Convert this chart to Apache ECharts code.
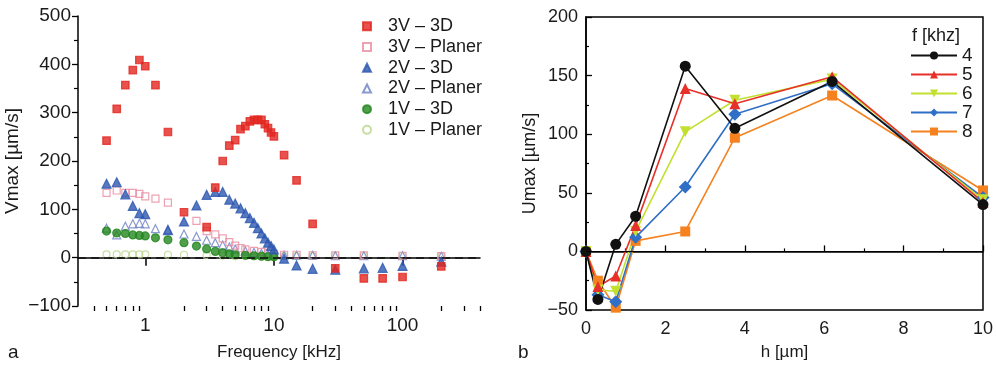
<!DOCTYPE html>
<html>
<head>
<meta charset="utf-8">
<script src="https://cdn.jsdelivr.net/npm/echarts@6/dist/echarts.min.js"></script>
<style>
  html, body { margin: 0; padding: 0; background: #fff; }
  #chart { width: 996px; height: 366px; }
</style>
</head>
<body>
<div id="chart"></div>
<script>
// panel a: frequency sweep (log x)
const f3V3D = [0.5, 0.6, 0.7, 0.8, 0.9, 1, 1.2, 1.5, 2, 3, 3.5, 4, 4.5, 5, 5.5, 6, 6.5, 7, 7.5, 8, 8.5, 9, 9.5, 10, 12, 15, 20, 30, 50, 70, 100, 200];
const v3V3D = [242, 308, 357, 388, 409, 396, 357, 260, 94, 63, 145, 200, 232, 243, 266, 272, 282, 285, 285, 285, 276, 268, 259, 251, 212, 160, 70, -22, -43, -43, -40, -18];

const f3VPl = [0.5, 0.6, 0.7, 0.8, 0.9, 1, 1.2, 1.5, 2.5, 3, 3.5, 4, 4.5, 5, 5.5, 6, 7, 8, 9, 10, 12, 15, 20, 30, 50, 100, 200];
const v3VPl = [134, 139, 134, 134, 132, 127, 122, 114, 76, 55, 48, 40, 32, 25, 20, 17, 14, 12, 10, 8, 6, 6, 5, 5, 5, 4, 3];

const f2V3D = [0.5, 0.6, 0.7, 0.8, 0.9, 1, 1.5, 2, 2.5, 3, 3.5, 4, 4.5, 5, 5.5, 6, 6.5, 7, 7.5, 8, 8.5, 9, 9.5, 10, 12, 15, 20, 30, 50, 70, 100, 200];
const v2V3D = [153, 156, 131, 107, 92, 90, 57, 75, 108, 130, 136, 136, 120, 112, 102, 92, 82, 72, 61, 50, 40, 31, 24, 17, -2, -16, -23, -25, -22, -21, -17, -8];

const f2VPl = [0.5, 0.6, 0.7, 0.8, 0.9, 1, 1.2, 1.5, 2, 2.5, 3, 3.5, 4, 4.5, 5, 6, 7, 8, 9, 10, 12, 15, 20, 30, 50, 100, 200];
const v2VPl = [61, 47, 65, 70, 71, 70, 60, 58, 49, 44, 36, 31, 26, 22, 18, 14, 11, 9, 7, 6, 5, 5, 5, 4, 4, 4, 3];

const f1V3D = [0.5, 0.6, 0.7, 0.8, 0.9, 1, 1.2, 1.5, 2, 2.5, 3, 3.5, 4, 4.5, 5, 6, 7, 8, 9, 10];
const v1V3D = [55, 51, 50, 47, 46, 45, 41, 37, 31, 24, 18, 13, 10, 8, 6, 5, 4, 3, 2, 2];

const f1VPl = [0.5, 0.6, 0.7, 0.8, 0.9, 1, 1.5, 2, 3, 4, 5, 6, 7, 8, 10, 12, 15, 20, 30, 50, 100, 200];
const v1VPl = [7, 7, 7, 7, 7, 7, 6, 6, 5, 4, 3, 3, 3, 2, 2, 3, 3, 3, 4, 4, 4, 3];

const freqMajor = [1, 10, 100];
const freqMinor = [0.4, 0.5, 0.6, 0.7, 0.8, 0.9, 2, 3, 4, 5, 6, 7, 8, 9, 20, 30, 40, 50, 60, 70, 80, 90, 200, 300, 400];

// panel b: depth sweep
const hVals = [0, 0.3, 0.75, 1.25, 2.5, 3.75, 6.2, 10];
const u4 = [0, -41, 6, 30, 158, 105, 145, 40];
const u5 = [0, -30, -21, 22, 139, 126, 149, 42];
const u6 = [0, -33, -34, 17, 102, 129, 147, 44];
const u7 = [0, -37, -43, 12, 55, 117, 143, 46];
const u8 = [0, -25, -48, 9, 17, 97, 133, 52];

const FONT = "Liberation Sans, Arial, sans-serif";
const INK = "#1a1a1a";

function pairs(xs, ys) {
  return xs.map((x, i) => [x, ys[i]]);
}
function minus(v) {
  return String(v).replace("-", "\u2212");
}

function scatter(name, xs, ys, symbol, size, fill, border, extra) {
  return Object.assign({
    name: name,
    type: "scatter",
    xAxisIndex: 0,
    yAxisIndex: 0,
    data: pairs(xs, ys),
    symbol: symbol,
    symbolSize: size,
    itemStyle: { color: fill, borderColor: border, borderWidth: 1.2 },
  }, extra || {});
}

function lineSeries(name, ys, color, symbol, size, rotate) {
  return {
    name: name,
    type: "line",
    xAxisIndex: 2,
    yAxisIndex: 1,
    data: pairs(hVals, ys),
    symbol: symbol,
    symbolSize: size,
    symbolRotate: rotate || 0,
    lineStyle: { color: color, width: 1.6 },
    itemStyle: { color: color },
  };
}

const chart = echarts.init(document.getElementById("chart"));

const option = {
  animation: false,
  backgroundColor: "#fff",
  textStyle: { fontFamily: FONT, color: INK },
  title: [
    { text: "a", left: 3, top: 338, textStyle: { fontFamily: FONT, fontSize: 19, fontWeight: "normal", color: INK } },
    { text: "b", left: 513, top: 338, textStyle: { fontFamily: FONT, fontSize: 19, fontWeight: "normal", color: INK } },
    { text: "f [khz]", left: 907, top: 22, textStyle: { fontFamily: FONT, fontSize: 18, fontWeight: "normal", color: INK } },
  ],
  legend: [
    {
      orient: "vertical",
      left: 357,
      top: 11,
      itemWidth: 8,
      itemHeight: 8,
      itemGap: 0,
      textStyle: { fontFamily: FONT, fontSize: 18, lineHeight: 20.7, color: INK, padding: [0, 0, 0, 12] },
      data: ["3V – 3D", "3V – Planer", "2V – 3D", "2V – Planer", "1V – 3D", "1V – Planer"],
    },
    {
      orient: "vertical",
      left: 905,
      top: 41,
      itemWidth: 46,
      itemHeight: 10,
      itemGap: 0,
      textStyle: { fontFamily: FONT, fontSize: 19, lineHeight: 18, color: INK },
      data: ["4", "5", "6", "7", "8"],
    },
  ],
  grid: [
    { left: 78, top: 16, width: 402, height: 296 },
    { left: 586, top: 17, width: 398, height: 301, show: true, borderColor: "#000", borderWidth: 1.5 },
  ],
  xAxis: [
    {
      gridIndex: 0,
      type: "log",
      logBase: 10,
      min: 0.3,
      max: 400,
      position: "bottom",
      name: "Frequency [kHz]",
      nameLocation: "middle",
      nameGap: 38,
      nameTextStyle: { fontFamily: FONT, fontSize: 17, color: INK },
      axisLine: { lineStyle: { color: "#000", width: 1.5 } },
      axisTick: { customValues: freqMajor, length: 8, lineStyle: { color: "#000", width: 1.5 } },
      axisLabel: { customValues: freqMajor, fontFamily: FONT, fontSize: 19, color: INK, margin: 10 },
      splitLine: { show: false },
    },
    {
      gridIndex: 0,
      type: "log",
      logBase: 10,
      min: 0.3,
      max: 400,
      position: "bottom",
      offset: 0,
      axisLine: { show: false },
      axisTick: { customValues: freqMinor, length: 5, lineStyle: { color: "#000", width: 1.3 } },
      axisLabel: { show: false },
      splitLine: { show: false },
    },
    {
      gridIndex: 1,
      type: "value",
      min: 0,
      max: 10,
      interval: 2,
      name: "h [\u00b5m]",
      nameLocation: "middle",
      nameGap: 34,
      nameTextStyle: { fontFamily: FONT, fontSize: 17, color: INK },
      axisLine: { lineStyle: { color: "#000", width: 1.5 } },
      axisTick: { inside: true, length: 6, lineStyle: { color: "#000", width: 1.3 } },
      minorTick: { show: true, splitNumber: 2, length: 3, lineStyle: { color: "#000", width: 1.2 } },
      axisLabel: { fontFamily: FONT, fontSize: 18, color: INK, margin: 10 },
      splitLine: { show: false },
    },
  ],
  yAxis: [
    {
      gridIndex: 0,
      type: "value",
      min: -100,
      max: 500,
      interval: 100,
      name: "Vmax [\u00b5m/s]",
      nameLocation: "middle",
      nameGap: 56,
      nameTextStyle: { fontFamily: FONT, fontSize: 19, color: INK },
      axisLine: { show: true, lineStyle: { color: "#000", width: 1.5 } },
      axisTick: { show: true, length: 6, lineStyle: { color: "#000", width: 1.3 } },
      minorTick: { show: true, splitNumber: 2, length: 4, lineStyle: { color: "#000", width: 1.2 } },
      axisLabel: { fontFamily: FONT, fontSize: 19, color: INK, margin: 7, formatter: minus },
      splitLine: { show: false },
    },
    {
      gridIndex: 1,
      type: "value",
      min: -50,
      max: 200,
      interval: 50,
      name: "Umax [\u00b5m/s]",
      nameLocation: "middle",
      nameGap: 47,
      nameTextStyle: { fontFamily: FONT, fontSize: 18, color: INK },
      axisLine: { show: true, lineStyle: { color: "#000", width: 1.5 } },
      axisTick: { show: true, inside: true, length: 6, lineStyle: { color: "#000", width: 1.3 } },
      minorTick: { show: true, splitNumber: 2, length: 3, lineStyle: { color: "#000", width: 1.2 } },
      axisLabel: { fontFamily: FONT, fontSize: 18, color: INK, margin: 8, formatter: minus },
      splitLine: { show: false },
    },
  ],
  series: [
    scatter("1V – Planer", f1VPl, v1VPl, "circle", 7, "transparent", "#b9d68c", {
      markLine: {
        silent: true,
        symbol: "none",
        label: { show: false },
        lineStyle: { color: "#111", width: 1.6, type: [8, 5] },
        data: [{ yAxis: 0 }],
      },
    }),
    scatter("2V – Planer", f2VPl, v2VPl, "triangle", 8, "transparent", "#6b7fc6"),
    scatter("3V – Planer", f3VPl, v3VPl, "rect", 7, "transparent", "#e88aa0"),
    scatter("1V – 3D", f1V3D, v1V3D, "circle", 8, "#24871f", "#24871f"),
    scatter("2V – 3D", f2V3D, v2V3D, "triangle", 9, "#2d58b0", "#2d58b0"),
    scatter("3V – 3D", f3V3D, v3V3D, "rect", 7.5, "#e2261f", "#e2261f"),

    lineSeries("8", u8, "#f5821f", "rect", 10),
    lineSeries("7", u7, "#2f6fc6", "diamond", [13, 13]),
    lineSeries("6", u6, "#c2e02e", "triangle", 11, 180),
    lineSeries("5", u5, "#e8302a", "triangle", 11),
    Object.assign(lineSeries("4", u4, "#111111", "circle", 11), {
      markLine: {
        silent: true,
        symbol: "none",
        label: { show: false },
        lineStyle: { color: "#000", width: 1.2, type: "solid" },
        data: [{ yAxis: 0 }],
      },
    }),
  ],
};

chart.setOption(option);
</script>
</body>
</html>
